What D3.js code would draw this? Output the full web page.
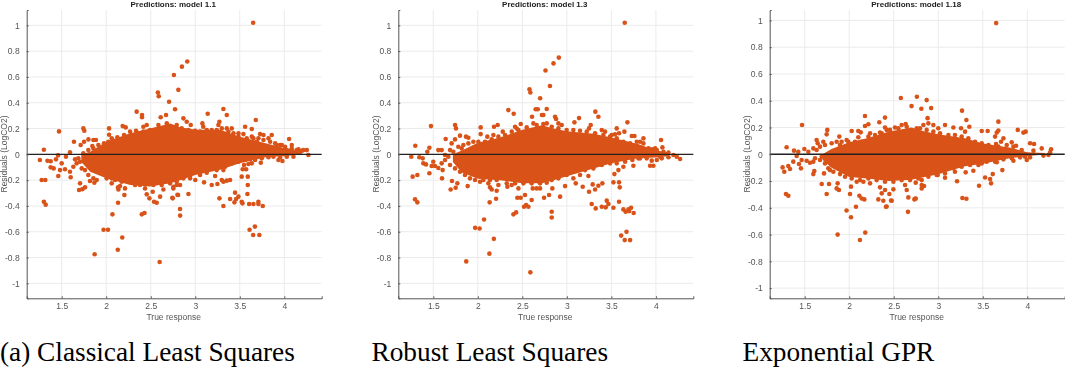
<!DOCTYPE html>
<html>
<head>
<meta charset="utf-8">
<script src="https://cdn.jsdelivr.net/npm/d3@7"></script>
<style>
  html, body { margin: 0; padding: 0; background: #fff; overflow: hidden; }
  svg { display: block; }
  .plot { filter: blur(0.35px); }
  .tick text, .ax-label { font-family: "Liberation Sans", sans-serif; fill: #555; }
</style>
</head>
<body>
<div id="chart"></div>
<script>
// tick labels
const xTicks = [1.5, 2, 2.5, 3, 3.5, 4];
const yTicks = [-1, -0.8, -0.6, -0.4, -0.2, 0, 0.2, 0.4, 0.6, 0.8, 1];

const coreX1 = [1.72, 1.82, 2.0, 2.27, 2.49, 2.72, 2.83, 3.0, 3.28, 3.5, 3.8, 4.0, 4.2];
const coreHi1 = [0, 0.02, 0.098, 0.163, 0.2, 0.24, 0.21, 0.19, 0.19, 0.137, 0.085, 0.05, 0.025];
const coreLo1 = [-0.06, -0.135, -0.186, -0.238, -0.25, -0.225, -0.2, -0.16, -0.12, -0.07, -0.02, -0.015, 0];

const coreX2 = [1.72, 1.82, 2.0, 2.25, 2.5, 2.72, 2.85, 3.0, 3.3, 3.5, 3.8, 4.0, 4.15];
const coreHi2 = [0, 0.03, 0.09, 0.13, 0.19, 0.225, 0.2, 0.18, 0.16, 0.13, 0.08, 0.03, 0.015];
const coreLo2 = [-0.06, -0.14, -0.19, -0.2, -0.225, -0.225, -0.2, -0.17, -0.11, -0.07, -0.03, -0.025, -0.015];

const coreX3 = [1.7, 1.8, 2.0, 2.2, 2.45, 2.7, 2.85, 3.0, 3.3, 3.5, 3.8, 4.0, 4.2];
const coreHi3 = [0, 0.04, 0.09, 0.12, 0.17, 0.2, 0.17, 0.15, 0.12, 0.08, 0.05, 0.015, 0.01];
const coreLo3 = [-0.04, -0.1, -0.17, -0.18, -0.2, -0.19, -0.17, -0.15, -0.09, -0.07, -0.03, -0.015, 0];

// separate dots around the core, [true response, residual]
const points1 = [
  [3.65,1.02],[2.91,.72],[2.85,.68],[2.76,.615],[2.81,.5],[2.58,.48],[2.59,.45],
  [1.47,.178],[1.30,.036],[1.255,-.044],[1.34,-.05],[1.376,-.054],[1.436,-.039],[1.459,-.008],[1.5,-.07],[1.548,-.018],[1.593,.015],
  [1.376,-.101],[1.41,-.109],[1.481,-.122],[1.537,-.116],[1.593,-.135],[1.631,-.096],[1.462,-.168],[1.601,-.178],[1.275,-.199],[1.316,-.199],[1.30,-.367],[1.32,-.39],
  [1.638,.098],[1.743,.201],[1.754,.183],[1.713,.072],[1.751,.098],[1.80,.116],[1.856,.111],[1.885,.111],[1.844,.064],
  [1.706,-.225],[1.762,-.256],[1.695,-.277],[1.732,-.27],[1.818,-.207],[1.867,-.22],
  [2.032,.201],[2.032,.152],[2.185,.219],[2.219,.209],[2.342,.331],[2.402,.305],[2.402,.287],
  [2.133,-.256],[2.155,-.246],[2.137,-.272],[2.211,-.264],[2.204,-.315],[2.133,-.375],[2.455,-.31],[2.522,-.29],[2.485,-.341],[2.537,-.367],[2.567,-.375],[2.605,-.328],[2.743,-.336],[2.807,-.315],
  [2.706,.408],[2.773,.349],[2.672,.305],[2.612,.287],[2.062,.124],[2.125,.132],[2.2,.15],[2.268,.176],[2.335,.183],[2.417,.214],[2.455,.227],[2.586,.227],[2.68,.24],
  [2.324,-.238],[2.38,-.238],[2.436,-.264],[2.642,-.272],[2.754,-.251],[2.005,-.186],[2.062,-.225],
  [3.316,.351],[3.354,.305],[3.14,.315],[3.68,.266],[2.867,.279],[2.904,.253],[2.949,.227],[3.08,.24],[3.09,.214],[3.271,.253],[3.26,.227],[3.56,.214],[3.635,.196],[3.354,.201],[3.41,.201],
  [3.485,.163],[3.541,.157],[3.728,.157],[3.766,.15],[3.859,.15],[3.822,.124],[4.054,.119],[4.084,.072],[3.972,.072],[3.915,.072],[3.653,.124],[3.691,.098],[4.14,.033],[4.196,.028],[4.253,.033],[4.271,-.005],[4.028,.033],
  [3.934,-.044],[3.979,-.052],[4.028,-.018],[3.736,-.065],[3.68,-.023],[3.635,-.07],[3.597,-.075],[3.548,-.083],[3.533,-.116],[3.571,-.116],[3.522,-.173],[3.59,-.173],[3.59,-.238],[3.586,-.308],
  [3.447,-.297],[3.485,-.328],[3.271,-.341],[3.391,-.346],[3.459,-.346],[3.44,-.372],[3.522,-.367],[3.53,-.38],[3.316,-.401],[3.605,-.385],[3.653,-.385],[3.709,-.367],[3.709,-.385],[3.758,-.401],
  [2.923,-.308],[2.8,-.313],[2.747,-.341],[2.829,-.424],[3.391,-.199],[3.354,-.204],[3.316,-.212],[3.298,-.199],[3.249,-.23],[3.185,-.238],[3.099,-.217],[3.223,-.168],[3.0,-.199],[2.942,-.186],[2.829,-.238],[2.754,-.264],[3.316,-.122],[3.429,-.057],
  [2.83,-.475],[2.6,-.835],[2.13,-.74],[2.18,-.645],[2.02,-.585],[1.97,-.585],[1.87,-.775],[2.07,-.465],[2.4,-.465],[2.43,-.455],[3.61,-.585],[3.65,-.625],[3.67,-.56],[3.72,-.625]
];

// dots that make the rough rim of the core
const edge1 = [
  [1.687,-.031],[1.706,-.057],[1.668,-.07],[1.65,-.039],[1.725,-.109],[1.762,-.122],[1.799,-.16],[1.856,-.186],[1.893,-.199],[1.743,.008],[1.799,.033],[1.856,.046],[1.912,.072],[1.949,.033],[1.975,.085],[2.024,.098],[2.08,.098],[2.125,.072],[2.193,.111],[2.249,.137],[2.305,.142],[2.361,.163],[2.417,.176],[2.492,.188],
  [2.062,-.186],[2.099,-.199],[2.174,-.212],[2.268,-.212],[2.342,-.225],[2.436,-.225],[2.53,-.238],[2.623,-.238],[2.717,-.225],[2.792,-.238],
  [2.792,.227],[2.848,.201],[2.923,.188],[2.998,.183],[3.054,.176],[3.129,.188],[3.185,.188],[3.241,.188],[3.298,.201],[3.372,.176],[3.429,.163],[3.485,.137],[3.578,.124],[3.635,.137],[3.709,.124],[3.766,.111],[3.841,.098],[3.897,.085],[3.953,.072],[4.009,.059],[4.084,.046],[4.159,.039],[4.215,.033],
  [2.792,-.212],[2.867,-.186],[2.942,-.168],[3.054,-.16],[3.129,-.142],[3.241,-.122],[3.335,-.096],[3.41,-.07],[3.485,-.057],[3.56,-.044],[3.616,-.039],[3.672,-.044],[3.747,-.031],[3.822,-.023],[3.878,-.018],[3.953,-.023],[4.103,-.018]
];

const points2 = [
  [3.65,1.02],[2.91,.75],[2.85,.705],[2.76,.65],[2.81,.53],[2.58,.505],[2.59,.48],[2.7,.435],[2.65,.35],[2.72,.305],
  [1.474,.219],[1.298,.067],[1.253,-.018],[1.343,-.023],[1.381,-.031],[1.456,.051],[1.433,.02],[1.557,.033],[1.594,.033],[1.388,-.07],[1.418,-.078],[1.5,-.057],[1.482,-.09],[1.519,-.09],[1.557,-.106],[1.605,-.122],
  [1.456,-.147],[1.598,-.186],[1.268,-.173],[1.321,-.16],[1.295,-.349],[1.321,-.372],[1.594,-.07],[1.639,.119],[1.744,.227],[1.755,.201],[1.706,.085],[1.744,.116],[1.80,.145],[1.867,.137],[1.894,.129],[1.819,.046],
  [1.71,-.207],[1.77,-.225],[1.695,-.272],[1.751,-.259],[1.886,-.246],[2.032,.209],[2.032,.157],[2.182,.214],[2.223,.227],[2.343,.343],[2.403,.315],[2.609,.292],[2.673,.349],[2.736,.305],[2.774,.351],
  [2.133,-.372],[2.205,-.344],[2.137,-.256],[2.156,-.272],[2.231,-.238],[2.212,-.282],[2.332,-.251],[2.38,-.238],[2.456,-.264],[2.444,-.336],[2.482,-.336],[2.53,-.315],[2.542,-.393],[2.519,-.406],[2.568,-.406],[2.605,-.354],[2.744,-.336],[2.8,-.315],[2.617,-.264],[2.661,-.264],[2.699,-.264],
  [2.107,.137],[2.175,.15],[2.28,.176],[2.418,.214],[2.482,.235],[2.437,.2],[2.624,.24],[2.774,.24],[2.025,-.212],[2.118,-.225],
  [2.867,.292],[2.879,.274],[2.905,.24],[2.942,.227],[3.085,.248],[3.137,.281],[3.32,.331],[3.354,.292],[3.68,.248],[3.268,.227],[3.249,.201],[3.56,.201],[3.586,.163],[3.646,.176],[3.392,.188],[3.429,.176],[3.504,.15],[3.541,.155],
  [3.729,.142],[3.759,.142],[3.86,.124],[3.822,.098],[4.058,.111],[4.073,.054],[3.953,.039],[3.991,.046],[4.141,.013],[4.197,-.005],[4.234,-.018],[4.272,-.036],[4.047,-.018],[3.935,-.088],[3.972,-.088],[3.953,-.049],[4.01,-.044],
  [3.747,-.088],[3.822,-.031],[3.736,-.044],[3.635,-.096],[3.579,-.122],[3.534,-.153],[3.523,-.217],[3.586,-.217],[3.594,-.256],[3.399,-.225],[3.354,-.243],[3.29,-.233],[3.317,-.272],[3.249,-.29],[3.178,-.251],[3.1,-.225],[3.242,-.168],
  [2.98,-.246],[2.924,-.328],[2.837,-.264],[3.279,-.385],[3.324,-.419],[3.448,-.359],[3.467,-.385],[3.392,-.406],[3.437,-.411],[3.523,-.414],[3.586,-.367],[3.635,-.427],[3.721,-.414],[3.691,-.427],
  [3.66,-.445],[3.7,-.44],[3.75,-.455],[2.83,-.445],[2.83,-.49],[2.4,-.465],[2.43,-.45],[2.59,-.915],[2.13,-.77],[2.18,-.655],[2.07,-.505],[1.97,-.57],[2.02,-.575],[1.87,-.83],[3.61,-.63],[3.67,-.6],[3.65,-.665],[3.71,-.665]
];

const edge2 = [
  [1.725,.02],[1.781,.059],[1.838,.072],[1.894,.085],[1.95,.098],[2.006,.098],[2.081,.098],[2.156,.116],[2.231,.137],[2.306,.15],[2.381,.176],[2.456,.188],[2.549,.209],[2.661,.227],[2.736,.235],
  [1.688,-.083],[1.744,-.109],[1.8,-.135],[1.856,-.16],[1.912,-.186],[1.969,-.199],[2.062,-.199],[2.137,-.199],[2.212,-.199],[2.325,-.225],[2.418,-.225],[2.512,-.225],[2.605,-.225],[2.699,-.225],[2.774,-.22],
  [1.632,-.044],[1.669,-.018],[1.632,-.005],[1.688,.033],
  [2.83,.214],[2.905,.201],[2.998,.188],[3.073,.188],[3.148,.183],[3.223,.176],[3.317,.163],[3.41,.15],[3.485,.137],[3.56,.124],[3.635,.098],[3.71,.085],[3.785,.098],[3.86,.085],[3.916,.046],[4.01,.033],[4.085,.02],
  [2.83,-.199],[2.905,-.186],[2.998,-.16],[3.073,-.186],[3.148,-.16],[3.204,-.122],[3.298,-.109],[3.392,-.083],[3.485,-.07],[3.56,-.07],[3.654,-.057],[3.804,-.031],[3.897,-.031],[4.066,-.031],[4.141,-.023]
];

const points3 = [
  [3.65,.98],[2.58,.42],[2.76,.43],[2.87,.405],[2.7,.36],[2.81,.34],[2.92,.345],[2.88,.27],
  [1.47,.219],[1.297,.052],[1.38,.027],[1.428,.019],[1.496,.039],[1.41,-.013],[1.372,-.055],[1.466,-.043],[1.522,-.048],[1.559,-.063],[1.597,-.055],[1.436,-.073],[1.458,-.105],[1.252,-.098],[1.271,-.13],[1.316,-.088],[1.335,-.11],[1.608,-.125],[1.597,-.148],[1.29,-.297],[1.316,-.31],
  [1.541,.019],[1.597,.044],[1.634,.107],[1.646,.082],[1.709,.094],[1.754,.182],[1.747,.149],[1.889,.132],[1.691,-.222],[1.773,-.222],[1.747,-.297],[1.87,-.217],[1.859,-.255],[1.885,-.267],
  [2.028,.174],[2.102,.174],[2.129,.164],[2.102,.127],[2.177,.286],[2.215,.224],[2.177,.211],[2.338,.239],[2.402,.274],[2.402,.2],[2.634,.226],
  [2.02,-.242],[2.009,-.297],[2.076,-.392],[2.114,-.31],[2.14,-.33],[2.17,-.337],[2.084,-.205],[2.159,-.205],[2.234,-.217],[2.346,-.247],[2.327,-.337],[2.383,-.347],[2.413,-.392],[2.365,-.292],[2.402,-.267],[2.477,-.347],[2.451,-.297],[2.496,-.262],
  [2.664,-.322],[2.732,-.337],[2.747,-.33],[2.627,-.23],[2.646,-.267],[2.747,-.212],[2.234,.157],[2.346,.162],[2.421,.182],[2.514,.2],[2.589,.219],[1.971,.107],[1.896,.069],[1.784,-.118],[1.717,-.143],
  [3.267,.326],[3.316,.256],[3.349,.206],[3.675,.244],[2.833,.219],[2.889,.231],[2.945,.219],[3.0,.194],[3.076,.219],[3.17,.2],[3.256,.194],[3.301,.169],[3.488,.174],[3.555,.174],[3.657,.162],[3.675,.177],[3.638,.132],[3.732,.119],[3.705,.094],[3.649,.077],[3.825,.089],[3.874,.064],
  [3.893,.182],[3.956,.162],[3.982,.169],[4.031,.082],[4.076,.077],[4.162,.044],[4.267,.037],[4.069,.027],[4.181,-.01],[4.237,-.005],[4.256,.014],[3.975,-.018],[3.994,-.043],[3.844,-.048],
  [3.72,-.118],[3.612,-.148],[3.582,-.185],[3.593,-.217],[3.526,-.173],[3.458,-.235],[3.211,-.202],[3.271,-.327],[3.316,-.332],[3.394,-.123],[3.308,-.135],[3.188,-.13],[3.076,-.175],[2.994,-.155],[2.814,-.23],[2.84,-.237],[2.814,-.255],[2.739,-.332],[3.488,-.068],[3.657,-.06],
  [1.87,-.6],[2.12,-.64],[2.18,-.585],[2.02,-.47],[1.97,-.42],[2.66,-.43],[2.42,-.39],[2.47,-.345]
];

const edge3 = [
  [1.634,.032],[1.672,.057],[1.728,.069],[1.803,.082],[1.859,.094],[1.915,.094],[1.99,.094],[2.065,.094],[2.14,.094],[2.215,.132],[2.29,.144],[2.365,.157],[2.458,.182],[2.552,.194],[2.646,.206],[2.758,.194],
  [1.728,-.068],[1.765,-.105],[1.822,-.13],[1.897,-.148],[1.953,-.168],[2.028,-.18],[2.121,-.193],[2.215,-.18],[2.308,-.193],[2.402,-.205],[2.496,-.205],[2.589,-.193],[2.683,-.193],[2.777,-.18],
  [1.672,-.043],[1.691,-.018],[1.616,-.03],
  [2.795,.194],[2.87,.182],[2.945,.169],[3.02,.157],[3.114,.144],[3.188,.144],[3.263,.132],[3.338,.119],[3.413,.094],[3.488,.082],[3.563,.069],[3.675,.057],[3.769,.069],[3.844,.057],[3.937,.032],
  [2.814,-.193],[2.889,-.168],[2.982,-.155],[3.076,-.143],[3.17,-.105],[3.263,-.093],[3.357,-.08],[3.451,-.08],[3.544,-.055],[3.638,-.055],[3.732,-.038],[3.825,-.03],[3.919,-.023],[4.031,-.023]
];

const titles = ['Predictions: model 1.1', 'Predictions: model 1.3', 'Predictions: model 1.18'];
const captions = ['(a) Classical Least Squares', 'Robust Least Squares', 'Exponential GPR'];

const ORANGE = '#d95319';
const width = 1065, height = 368;

const panels = [
  { left: 26.7, title: titles[0], caption: captions[0], capX: 0, xDom: [1.107, 4.42], yDom: [-1.116, 1.119], coreX: coreX1, hi: coreHi1, lo: coreLo1, pts: points1.concat(edge1) },
  { left: 398.3, title: titles[1], caption: captions[1], capX: 371.5, xDom: [1.107, 4.42], yDom: [-1.116, 1.119], coreX: coreX2, hi: coreHi2, lo: coreLo2, pts: points2.concat(edge2) },
  { left: 769.7, title: titles[2], caption: captions[2], capX: 742.5, xDom: [1.107, 4.42], yDom: [-1.076, 1.078], coreX: coreX3, hi: coreHi3, lo: coreLo3, pts: points3.concat(edge3) }
];

const svg = d3.select('#chart').append('svg')
  .attr('width', width)
  .attr('height', height);

const plotW = 295, plotTop = 10, plotBottom = 298.3;

panels.forEach(p => {
  const g = svg.append('g').attr('class', 'plot');
  const x = d3.scaleLinear().domain(p.xDom).range([p.left, p.left + plotW]);
  const y = d3.scaleLinear().domain(p.yDom).range([plotBottom, plotTop]);

  // Grid
  g.append('g').selectAll('line').data(xTicks).join('line')
    .attr('x1', d => x(d)).attr('x2', d => x(d))
    .attr('y1', plotTop).attr('y2', plotBottom)
    .attr('stroke', '#ebebeb');
  g.append('g').selectAll('line').data(yTicks).join('line')
    .attr('x1', p.left).attr('x2', p.left + plotW)
    .attr('y1', d => y(d)).attr('y2', d => y(d))
    .attr('stroke', '#ebebeb');

  // Cloud core
  const core = d3.area()
    .x((d, i) => x(p.coreX[i]))
    .y0((d, i) => y(p.lo[i]))
    .y1((d, i) => y(p.hi[i]));
  g.append('path')
    .attr('d', core(p.coreX))
    .attr('fill', ORANGE);

  // Dots
  g.append('g').selectAll('circle').data(p.pts).join('circle')
    .attr('cx', d => x(d[0]))
    .attr('cy', d => y(d[1]))
    .attr('r', 2.3)
    .attr('fill', ORANGE);

  // Zero line
  g.append('line')
    .attr('x1', p.left).attr('x2', p.left + plotW)
    .attr('y1', y(0)).attr('y2', y(0))
    .attr('stroke', '#222')
    .attr('stroke-width', 1.4);

  // Axes
  const xAxis = d3.axisBottom(x).tickValues(xTicks).tickFormat(d => String(d)).tickSize(-2).tickPadding(5);
  const yAxis = d3.axisLeft(y).tickValues(yTicks).tickFormat(d => String(d)).tickSize(-2).tickPadding(7);
  [g.append('g').attr('transform', `translate(0,${plotBottom})`).call(xAxis),
   g.append('g').attr('transform', `translate(${p.left},0)`).call(yAxis)].forEach(a => {
    a.selectAll('path').attr('stroke', '#555');
    a.selectAll('line').attr('stroke', '#555');
    a.selectAll('text').style('font-size', '8.5px').attr('fill', '#555');
  });

  // Labels
  g.append('text').attr('class', 'ax-label')
    .attr('x', p.left + plotW / 2 - 0.5).attr('y', 320)
    .attr('text-anchor', 'middle')
    .style('font-size', '8.5px')
    .text('True response');
  g.append('text').attr('class', 'ax-label')
    .attr('transform', `translate(${p.left - 19.5},154) rotate(-90)`)
    .attr('text-anchor', 'middle')
    .style('font-size', '8.5px')
    .text('Residuals (LogCO2)');
  g.append('text')
    .attr('x', p.left + plotW / 2 - 1).attr('y', 6.5)
    .attr('text-anchor', 'middle')
    .attr('font-family', '"Liberation Sans", sans-serif')
    .attr('font-weight', 'bold')
    .attr('font-size', 8)
    .attr('fill', '#222')
    .text(p.title);

  // Caption under the panel
  svg.append('text')
    .attr('x', p.capX).attr('y', 361)
    .attr('font-family', '"Liberation Serif", serif')
    .attr('font-size', 27.3)
    .attr('fill', '#000')
    .text(p.caption);
});
</script>
</body>
</html>
